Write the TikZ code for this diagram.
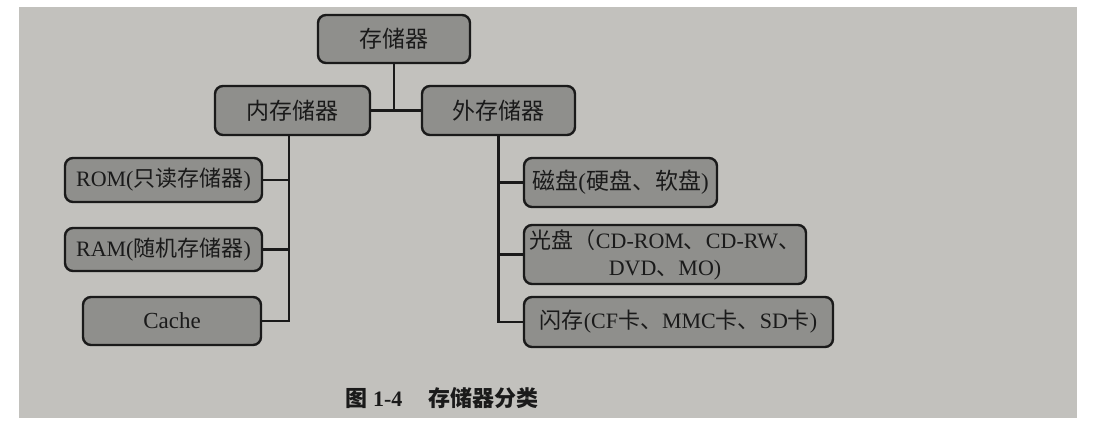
\documentclass[tikz,border=0pt]{standalone}
\usepackage{fontspec}
\setmainfont{Liberation Serif}
\newfontfamily\cjk{Noto Sans CJK SC}
\newfontfamily\cjkb{Noto Sans CJK SC Bold}
\definecolor{paper}{HTML}{C2C1BD}
\definecolor{boxfill}{HTML}{8F8F8C}
\definecolor{ink}{HTML}{1A1A1A}
\begin{document}
\begin{tikzpicture}[x=1pt,y=-1pt,
  box/.style={draw=ink,line width=2.4pt,rounded corners=8pt,fill=boxfill,
    inner sep=0pt,font=\fontsize{23}{29}\selectfont,text=ink,align=center},
  smalltext/.style={font=\fontsize{22}{27}\selectfont},
  link/.style={draw=ink,line width=2.2pt}]
\useasboundingbox (0,0) rectangle (1100,425);
\fill[white] (0,0) rectangle (1100,425);
\fill[paper] (19,7) rectangle (1077,418);
% nodes
\node[box,minimum width=152pt,minimum height=48pt] (top) at (394,39) {\cjk 存储器};
\node[box,minimum width=155pt,minimum height=49pt] (in) at (292.5,110.5) {\cjk 内存储器};
\node[box,minimum width=153pt,minimum height=49pt] (out) at (498.5,110.5) {\cjk 外存储器};
\node[box,smalltext,minimum width=197pt,minimum height=44pt] (rom) at (163.5,180) {ROM({\cjk 只读存储器})};
\node[box,smalltext,minimum width=197pt,minimum height=43pt] (ram) at (163.5,249.5) {RAM({\cjk 随机存储器})};
\node[box,minimum width=178pt,minimum height=48pt] (cache) at (172,321) {Cache};
\node[box,minimum width=193pt,minimum height=49pt] (disk) at (620.5,182.5) {{\cjk 磁盘}({\cjk 硬盘、软盘})};
\node[box,smalltext,minimum width=282pt,minimum height=59pt] (optical) at (665,254.5) {{\cjk 光盘（}CD-ROM{\cjk 、}CD-RW{\cjk 、}\\DVD{\cjk 、}MO)};
\node[box,smalltext,minimum width=309pt,minimum height=50pt] (flash) at (678.5,322) {{\cjk 闪存}(CF{\cjk 卡、}MMC{\cjk 卡、}SD{\cjk 卡})};
\node[font=\fontsize{22}{26}\selectfont\bfseries,text=ink] (cap) at (442,398) {{\cjkb 图} 1-4\hspace{26pt}{\cjkb 存储器分类}};
% connectors
\coordinate (lt) at (289,0);
\draw[link] (top.south) -- (top.south |- in.east);
\draw[link] (in.east) -- (out.west);
\draw[link] (in.south -| lt) |- (cache.east);
\draw[link] (rom.east) -- (rom.east -| lt);
\draw[link] (ram.east) -- (ram.east -| lt);
\draw[link] (out.south) |- (flash.west);
\draw[link] (disk.west) -- (disk.west -| out.south);
\draw[link] (optical.west) -- (optical.west -| out.south);
\end{tikzpicture}
\end{document}
